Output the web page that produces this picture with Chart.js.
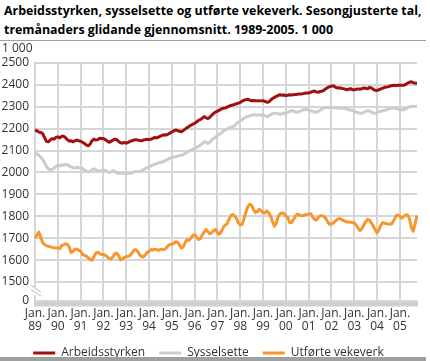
<!DOCTYPE html>
<html>
<head>
<meta charset="utf-8">
<script src="https://cdn.jsdelivr.net/npm/chart.js@4.4.1/dist/chart.umd.min.js"></script>
<style>
  html, body { margin: 0; padding: 0; background: #fff; }
  #wrap { position: relative; width: 430px; height: 361px; overflow: hidden; }
  #title { position: absolute; left: 4px; top: 1px; width: 426px; font: bold 12.4px "Open Sans", sans-serif; line-height: 19px; color: #000; white-space: nowrap; }
  #rule { position: absolute; left: 0; top: 40px; width: 426px; height: 1px; background: #a0a0a0; }
  #foot { position: absolute; left: 0; top: 357px; width: 426px; height: 4px; background: #a0a0a0; }
  canvas { position: absolute; left: 0; top: 0; }
</style>
</head>
<body>
<div id="wrap">
  <div id="title">Arbeidsstyrken, sysselsette og utførte vekeverk. Sesongjusterte tal,<br>tremånaders glidande gjennomsnitt. 1989-2005. 1 000</div>
  <div id="rule"></div>
  <canvas id="c" width="430" height="371"></canvas>
  <div id="foot"></div>
</div>
<script>
// years shown on the x axis (one tick label each January), monthly data Jan 1989 - Oct 2005
const years = ['89', '90', '91', '92', '93', '94', '95', '96', '97', '98', '99', '00', '01', '02', '03', '04', '05'];
const monthsInLastYear = 10;

// y axis: broken axis, bottom tick is labelled 0
const yTicks = [1500, 1600, 1700, 1800, 1900, 2000, 2100, 2200, 2300, 2400, 2500];
const yBreakValue = 1415;
const unitLabel = '1 000';

const arbeidsstyrken = [
  2195, 2190, 2185, 2183, 2178, 2160, 2142, 2140, 2148, 2155, 2152, 2160,
  2163, 2158, 2165, 2166, 2160, 2150, 2143, 2145, 2140, 2145, 2148, 2145,
  2143, 2138, 2132, 2126, 2122, 2130, 2145, 2152, 2148, 2150, 2156, 2155,
  2155, 2150, 2144, 2138, 2142, 2148, 2152, 2150, 2142, 2136, 2134, 2137,
  2134, 2138, 2142, 2145, 2148, 2150, 2148, 2146, 2145, 2148, 2150, 2152,
  2150, 2152, 2156, 2160, 2158, 2162, 2166, 2170, 2172, 2171, 2175, 2180,
  2185, 2190, 2194, 2192, 2188, 2186, 2192, 2198, 2205, 2210, 2216, 2220,
  2225, 2230, 2238, 2242, 2248, 2255, 2250, 2246, 2252, 2262, 2270, 2276,
  2280, 2285, 2290, 2293, 2294, 2298, 2302, 2306, 2308, 2311, 2314, 2317,
  2320, 2326, 2330, 2333, 2334, 2330, 2328, 2329, 2328, 2327, 2328, 2327,
  2328, 2325, 2321, 2322, 2330, 2338, 2343, 2348, 2352, 2355, 2353, 2354,
  2351, 2353, 2355, 2354, 2355, 2356, 2357, 2358, 2358, 2360, 2362, 2363,
  2363, 2366, 2370, 2372, 2368, 2366, 2370, 2371, 2376, 2382, 2388, 2392,
  2394, 2396, 2390, 2386, 2387, 2385, 2383, 2381, 2378, 2380, 2383, 2378,
  2378, 2380, 2382, 2380, 2383, 2386, 2385, 2382, 2389, 2386, 2380, 2375,
  2374, 2378, 2382, 2385, 2389, 2390, 2392, 2395, 2397, 2398, 2397, 2398,
  2398, 2399, 2398, 2402, 2408, 2412, 2414, 2410, 2408, 2408
];

const sysselsette = [
  2088, 2085, 2078, 2070, 2060, 2045, 2028, 2017, 2012, 2015, 2020, 2028,
  2032, 2030, 2035, 2033, 2037, 2036, 2030, 2026, 2022, 2020, 2024, 2022,
  2020, 2018, 2012, 2006, 2002, 2005, 2012, 2017, 2013, 2008, 2006, 2008,
  2010, 2009, 2004, 2000, 2002, 2008, 2005, 1998, 1996, 1997, 1996, 1998,
  1997, 1995, 1996, 1999, 2002, 2005, 2004, 2005, 2008, 2012, 2018, 2022,
  2025, 2030, 2034, 2038, 2040, 2044, 2046, 2048, 2052, 2056, 2060, 2066,
  2070, 2071, 2072, 2075, 2077, 2078, 2082, 2088, 2094, 2098, 2102, 2106,
  2109, 2114, 2120, 2125, 2132, 2140, 2138, 2132, 2138, 2148, 2155, 2162,
  2168, 2175, 2180, 2188, 2194, 2198, 2203, 2207, 2209, 2214, 2222, 2230,
  2236, 2242, 2248, 2254, 2256, 2258, 2262, 2264, 2263, 2262, 2263, 2261,
  2263, 2260, 2255, 2257, 2265, 2268, 2271, 2270, 2268, 2266, 2268, 2271,
  2271, 2274, 2279, 2283, 2280, 2276, 2275, 2278, 2282, 2286, 2288, 2286,
  2286, 2282, 2279, 2276, 2275, 2278, 2284, 2290, 2294, 2297, 2298, 2297,
  2297, 2296, 2296, 2295, 2294, 2293, 2294, 2292, 2290, 2286, 2285, 2283,
  2280, 2276, 2273, 2271, 2270, 2275, 2280, 2282, 2280, 2276, 2271, 2270,
  2274, 2278, 2280, 2282, 2284, 2286, 2290, 2292, 2294, 2294, 2292, 2290,
  2288, 2287, 2286, 2290, 2296, 2300, 2302, 2301, 2302, 2302
];

const vekeverk = [
  1700, 1712, 1728, 1705, 1680, 1671, 1665, 1663, 1660, 1658, 1656, 1655,
  1655, 1652, 1666, 1670, 1675, 1672, 1660, 1635, 1640, 1650, 1651, 1645,
  1640, 1625, 1622, 1618, 1610, 1602, 1599, 1615, 1632, 1636, 1630, 1626,
  1625, 1622, 1615, 1608, 1605, 1615, 1628, 1632, 1620, 1601, 1605, 1612,
  1615, 1618, 1620, 1632, 1645, 1648, 1640, 1625, 1616, 1614, 1622, 1635,
  1640, 1648, 1646, 1650, 1648, 1645, 1648, 1650, 1648, 1655, 1665, 1671,
  1672, 1676, 1684, 1682, 1670, 1655, 1660, 1680, 1694, 1690, 1700, 1712,
  1716, 1705, 1694, 1698, 1715, 1728, 1740, 1730, 1720, 1725, 1735, 1740,
  1725, 1718, 1730, 1748, 1760, 1765, 1785, 1802, 1808, 1802, 1790, 1770,
  1760, 1763, 1790, 1820, 1845, 1855, 1850, 1830, 1817, 1822, 1832, 1825,
  1817, 1815, 1825, 1815, 1800, 1775, 1755, 1770, 1800, 1812, 1815, 1812,
  1800, 1794, 1772, 1771, 1785, 1800, 1810, 1806, 1804, 1803, 1806, 1808,
  1810, 1812, 1798, 1786, 1783, 1795, 1802, 1802, 1800, 1790, 1775, 1763,
  1765, 1770, 1778, 1785, 1790, 1788, 1782, 1778, 1775, 1774, 1773, 1771,
  1770, 1760, 1745, 1735, 1743, 1760, 1775, 1786, 1782, 1770, 1755, 1738,
  1725, 1738, 1760, 1771, 1768, 1766, 1765, 1764, 1768, 1785, 1802, 1806,
  1800, 1792, 1798, 1806, 1806, 1790, 1750, 1732, 1765, 1805
];

const gridColor = '#d6d6d6';
const textColor = '#333333';
const fontFamily = '"Open Sans", sans-serif';

// one category per month, labelled only in January
const months = [];
years.forEach(function (yy, k) {
    const n = k === years.length - 1 ? monthsInLastYear : 12;
    for (let m = 0; m < n; m++) months.push(m === 0 ? ['Jan.', yy] : '');
});

const decorPlugin = {
    id: 'decor',
    afterDraw: function (chart) {
        const ctx = chart.ctx;
        const y = chart.scales.y;
        const left = chart.chartArea.left;
        ctx.save();
        // unit label above the axis
        ctx.fillStyle = textColor;
        ctx.font = '12px ' + fontFamily;
        ctx.textAlign = 'left';
        ctx.textBaseline = 'middle';
        ctx.fillText(unitLabel, 2, y.getPixelForValue(2500) - 14);
        // axis break marks
        const yb = (y.getPixelForValue(1500) + y.getPixelForValue(yBreakValue)) / 2;
        ctx.fillStyle = '#fff';
        ctx.fillRect(left - 2, yb - 4, 4, 8);
        ctx.strokeStyle = '#c8c8c8';
        ctx.lineWidth = 1.2;
        ctx.beginPath();
        ctx.moveTo(left - 4, yb - 6); ctx.lineTo(left + 6, yb + 1);
        ctx.moveTo(left - 4, yb - 2); ctx.lineTo(left + 6, yb + 5);
        ctx.stroke();
        ctx.restore();
    }
};

new Chart(document.getElementById('c').getContext('2d'), {
    type: 'line',
    data: {
        labels: months,
        datasets: [
            { label: 'Arbeidsstyrken', data: arbeidsstyrken, borderColor: '#a0100f' },
            { label: 'Sysselsette', data: sysselsette, borderColor: '#cccccc' },
            { label: 'Utførte vekeverk', data: vekeverk, borderColor: '#f7962e' }
        ].map(function (d) {
            return Object.assign(d, { backgroundColor: d.borderColor, borderWidth: 3, pointRadius: 0, tension: 0, borderJoinStyle: 'round' });
        })
    },
    options: {
        responsive: false,
        animation: false,
        layout: { padding: { top: 63, right: 13, bottom: 2, left: 0 } },
        plugins: {
            tooltip: { enabled: false },
            legend: {
                position: 'bottom',
                labels: {
                    boxWidth: 22,
                    boxHeight: 3,
                    padding: 14,
                    color: textColor,
                    font: { size: 12, family: fontFamily },
                    generateLabels: function (chart) {
                        return chart.data.datasets.map(function (d, i) {
                            return { text: d.label, fillStyle: d.borderColor, strokeStyle: d.borderColor, lineWidth: 0, hidden: false, datasetIndex: i, fontColor: textColor };
                        });
                    }
                }
            }
        },
        scales: {
            x: {
                offset: false,
                grid: {
                    color: function (c) { return c.index % 12 === 0 ? gridColor : 'transparent'; },
                    tickColor: '#cfcfcf',
                    tickLength: 6,
                    lineWidth: 2
                },
                border: { display: false },
                ticks: {
                    autoSkip: false,
                    maxRotation: 0,
                    padding: 0,
                    color: textColor,
                    font: { size: 12, family: fontFamily, lineHeight: 1.1 }
                }
            },
            y: {
                min: yBreakValue,
                max: 2500,
                afterBuildTicks: function (scale) {
                    scale.ticks = [yBreakValue].concat(yTicks).map(function (v) { return { value: v }; });
                },
                afterFit: function (scale) { scale.width = 35; },
                grid: { color: gridColor, lineWidth: 2, drawTicks: false },
                border: { display: true, color: gridColor, width: 2 },
                ticks: {
                    padding: 6,
                    color: textColor,
                    font: { size: 12, family: fontFamily },
                    callback: function (v) { return v === yBreakValue ? '0' : String(v); }
                }
            }
        }
    },
    plugins: [decorPlugin]
});
</script>
</body>
</html>
